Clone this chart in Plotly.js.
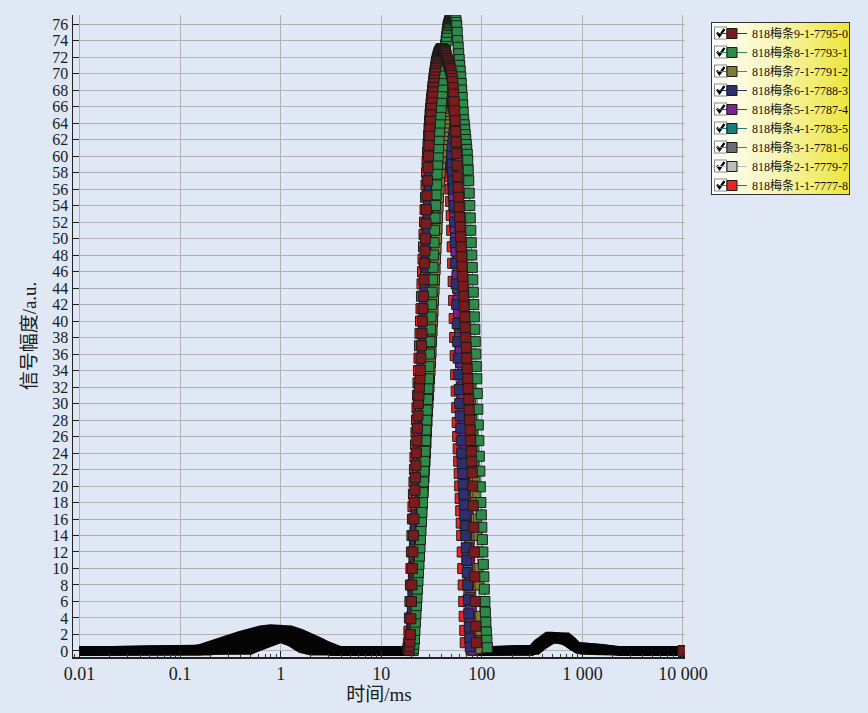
<!DOCTYPE html>
<html><head><meta charset="utf-8">
<script src="https://cdn.plot.ly/plotly-3.0.1.min.js"></script>
<style>html,body{margin:0;padding:0;background:#dfe8f4;}#chart{width:868px;height:713px;}</style>
</head><body><div id="chart"></div>
<script>
// ---- data ----
const t2Low = [0.01,0.1,0.126,0.158,0.2,0.251,0.316,0.398,0.501,0.631,0.794,1,1.26,1.58,2,2.51,3.16,3.98,5.01,10];
const t2Main = [18.20,18.41,18.62,18.84,19.06,19.28,19.50,19.72,19.95,20.18,
 20.42,20.65,20.89,21.14,21.38,21.63,21.88,22.13,22.39,22.65,
 22.91,23.17,23.44,23.71,23.99,24.27,24.55,24.83,25.12,25.41,
 25.70,26.00,26.30,26.61,26.92,27.23,27.54,27.86,28.18,28.51,
 28.84,29.17,29.51,29.85,30.20,30.55,30.90,31.26,31.62,31.99,
 32.36,32.73,33.11,33.50,33.88,34.28,34.67,35.08,35.48,35.89,
 36.31,36.73,37.15,37.58,38.02,38.46,38.90,39.36,39.81,40.27,
 40.74,41.21,41.69,42.17,42.66,43.15,43.65,44.16,44.67,45.19,
 45.71,46.24,46.77,47.32,47.86,48.42,48.98,49.55,50.12,50.70,
 51.29,51.88,52.48,53.09,53.70,54.33,54.95,55.59,56.23,56.89,
 57.54,58.21,58.88,59.57,60.26,60.95,61.66,62.37,63.10,63.83,
 64.57,65.31,66.07,66.83,67.61,68.39,69.18,69.98,70.79,71.61,
 72.44,73.28,74.13,74.99,75.86,76.74,77.62,78.52,79.43,80.35,
 81.28,82.22,83.18,84.14,85.11,86.10,87.10,88.10,89.13,90.16,
 91.20,92.26,93.33,94.41,95.50,96.61,97.72,98.86,100.0,101.2,
 102.3,103.5,104.7,105.9,107.2,108.4,109.6,110.9,112.2,113.5,
 114.8,116.1,117.5];
const t2High = [126,200,251,282,316,355,398,447,501,562,631,708,794,891,1000,1259,1585,1995,2512,10000];
const tickVals = [0.01,0.1,1,10,100,1000,10000];
const tickText = ['0.01','0.1','1','10','100','1 000','10 000'];

const names = ['818梅条9-1-7795-0','818梅条8-1-7793-1','818梅条7-1-7791-2','818梅条6-1-7788-3','818梅条5-1-7787-4','818梅条4-1-7783-5','818梅条3-1-7781-6','818梅条2-1-7779-7','818梅条1-1-7777-8'];
const colors = ['#7a1c1e','#2e8a48','#7c7c36','#2f2f70','#7a2690','#1d7e80','#6e6e6e','#bcbcbc','#ec2323'];

// short-time hump (t2Low)
const low0 = [0,0,0,0.2,0.6,1.0,1.35,1.7,2.1,2.35,2.5,2.5,2.35,1.95,1.45,0.9,0.25,0,0,0];
const low1 = [0,0,0.05,0.3,0.8,1.2,1.5,1.9,2.3,2.55,2.7,2.7,2.55,2.15,1.65,1.05,0.35,0,0,0];
const low2 = [0,0,0,0.1,0.5,0.85,1.2,1.55,1.9,2.15,2.3,2.3,2.15,1.75,1.3,0.75,0.15,0,0,0];
const low3 = [0,0,0,0,0.25,0.6,0.9,1.25,1.6,1.85,2.0,2.0,1.85,1.5,1.05,0.5,0,0,0,0];
const low4 = [0,0,0,0,0.15,0.45,0.8,1.1,1.45,1.7,1.85,1.9,1.75,1.4,0.95,0.4,0,0,0,0];
const low5 = [0,0,0,0,0,0.3,0.6,0.95,1.3,1.55,1.75,1.8,1.65,1.25,0.8,0.3,0,0,0,0];
const low6 = [0,0,0,0,0.35,0.7,1.05,1.4,1.75,1.95,2.1,2.1,1.95,1.6,1.15,0.6,0.1,0,0,0];
const low7 = [0,0,0,0,0,0.15,0.4,0.75,1.1,1.4,1.6,1.7,1.5,1.1,0.6,0.15,0,0,0,0];
const low8 = [0,0,0,0,0,0,0,0,0.1,0.6,1.1,1.5,1.05,0.3,0,0,0,0,0,0];

// main peak (t2Main)
const main0 = [0,0,0,0.1,0.5,1.1,2,3.9,6,8,10,12,14,16,18,19.5,21,22.5,24,25.5,
 27,28.5,30,31,32,33,34,35.5,37,38.5,40,41.5,43,45,47,48.5,50,51.8,53.5,55.2,
 57,58.6,60,61.3,62.5,63.6,64.5,65.4,66.2,67,67.7,68.4,69,69.5,70,70.4,70.8,71.2,71.5,71.8,
 72,72.2,72.4,72.6,72.7,72.8,72.9,73,73,73,73,73,72.9,72.8,72.7,72.6,72.4,72.2,72,71.8,
 71.6,71.4,71.2,71,70.8,70.6,70.4,70.1,69.8,69.4,69,68.3,67.5,66.6,65.5,64.3,63,61.7,60.3,58.9,
 57.5,56.2,55,53.8,52.6,51.4,50.2,49,47.8,46.6,45.4,44.2,43,41.8,40.5,39.2,38,36.8,35.5,34.2,
 33,31.8,30.5,29.2,28,26.8,25.5,24.2,23,21.6,20,17.6,15,12,9,6,3,1,0,0,
 0,0,0,0,0,0,0,0,0,0,0,0,0,0,0,0,0,0,0,0,
 0,0,0];
const main1 = [0,0,0,0,0,0,0,0,0,0,0,0.05,0.3,0.8,1.5,2.5,3.5,4.5,5.5,6.5,
 7.5,8.5,9.5,10.5,11.5,12.5,13.5,14.6,15.7,16.8,18,19.2,20.5,21.8,23,24.2,25.5,26.8,28,29.2,
 30.5,31.8,33,34.5,36,37.5,39,40.5,42,43.5,45,46.5,48,49.5,51,52.5,54,55.3,56.5,57.8,
 59,60,61,62,63,64,65,65.9,66.7,67.6,68.4,69.2,70,70.9,71.8,72.7,73.5,74,74.5,75,
 75.5,75.8,76,76.2,76.4,76.6,76.7,76.8,76.9,77,77,77,77,77,76.9,76.7,76.5,76.2,75.8,75,
 74,73.2,72.4,71.7,71,70.3,69.6,68.8,68,67.1,66.2,65.3,64.4,63.8,63.2,62.6,62,61.4,60.8,60.2,
 59.5,58.3,57,55.5,54,52.5,51,49.5,48,46.5,45,43.5,42,40.5,39,37.5,36,34.5,33,31.2,
 29.3,27.4,25.5,23.6,21.8,19.9,18,16.5,15,13.5,12,10.5,9,7.5,6,4.7,3.5,2.3,1.3,0.4,
 0,0,0];
const main2 = [0,0,0,0,0,0,0,0,0,0,0,0.1,0.5,1.4,2.5,3.7,5,6.2,7.5,8.5,
 9.5,10.5,11.5,12.5,13.5,14.5,15.5,16.3,17,17.7,18.5,19.2,20,21,22,23,24,25.2,26.5,27.8,
 29,30,31,32,33,34,35,36.2,37.5,38.8,40,41.2,42.5,43.8,45,46.2,47.5,48.8,50,51.2,
 52.5,53.8,55,56,57,58,59,59.8,60.5,61.3,62,62.5,63,63.5,64,64.5,65,65.4,65.8,66.1,
 66.4,66.6,66.8,66.9,67,67,67,66.9,66.8,66.6,66.4,66.1,65.8,65.4,65,64.5,64,63.5,63,62.5,
 62,61.5,61,60.4,59.8,59.2,58.5,57.8,57,55.5,54,52.5,51,49.5,48,46.5,45,43.5,42,40.5,
 39,37.5,36,34.5,33,31.8,30.5,29.2,28,26.8,25.5,24.2,23,21.8,20.5,19.2,18,16,14,12,
 10,8,6,4.2,2.5,1.2,0.3,0,0,0,0,0,0,0,0,0,0,0,0,0,
 0,0,0];
const main3 = [0,0,0,0,0,0.1,0.5,1.1,2,3.4,5,6.7,8.5,10.2,12,13.5,15,16.5,18,19.5,
 21,22.5,24,25.5,27,28.5,30,31.5,33,34.5,36,37.5,39,40.5,42,43.5,45,46.5,48,49.5,
 51,52.5,54,55.3,56.5,57.8,59,60,61,62,63,63.8,64.6,65.3,66,66.5,67,67.4,67.8,68.1,
 68.4,68.6,68.8,68.9,69,69,69,68.9,68.8,68.7,68.5,68.3,68,67.7,67.4,67.1,66.8,66.5,66.2,65.9,
 65.5,65.1,64.6,64.1,63.5,62.8,62,61,60,59,58,57,56,54,52,49.5,47,44.5,42,39.7,
 37.5,35.5,33.5,31.7,30,28.5,27,25.5,24,22.7,21.5,20.2,19,17.7,16.5,15.2,14,12.5,11,9.5,
 8,6.2,4.5,2.9,1.5,0.5,0,0,0,0,0,0,0,0,0,0,0,0,0,0,
 0,0,0,0,0,0,0,0,0,0,0,0,0,0,0,0,0,0,0,0,
 0,0,0];
const main4 = [0,0,0,0,0,0,0,0,0,0,0,0.1,0.5,1.4,2.5,3.7,5,6.5,8,9.5,
 11,12.5,14,15.5,17,18.5,20,21.5,23,24.5,26,27.5,29,30.5,32,33.5,35,36.5,38,39.5,
 41,42.5,44,45.5,47,48.5,50,51.3,52.5,53.8,55,56,57,58,59,59.8,60.5,61.3,62,62.5,
 63,63.5,64,64.4,64.8,65.1,65.4,65.6,65.8,65.9,66,66,66,65.9,65.8,65.6,65.4,65.1,64.8,64.4,
 64,63.5,63,62.4,61.8,61.1,60.4,59.6,58.8,57.9,57,56,55,53.8,52.5,51.3,50,48.5,47,45.5,
 44,42.5,41,39.5,38,36.5,35,33.5,32,30.5,29,27.5,26,24.5,23,21.5,20,18.5,17,15.5,
 14,12.5,11,9.5,8,6.5,5,3.7,2.5,1.4,0.5,0.1,0,0,0,0,0,0,0,0,
 0,0,0,0,0,0,0,0,0,0,0,0,0,0,0,0,0,0,0,0,
 0,0,0];
const main5 = [0,0,0,0,0,0,0,0.1,0.5,1.1,2,3.2,4.5,6,7.5,9,10.5,12,13.5,15,
 16.5,18,19.5,21,22.5,24,25.5,27,28.5,30,31.5,33,34.5,36,37.5,39,40.5,42,43.5,45,
 46.5,48,49.5,50.8,52,53.3,54.5,55.7,56.8,57.8,58.8,59.7,60.6,61.4,62.2,62.9,63.6,64.2,64.8,65.3,
 65.8,66.2,66.6,66.9,67.2,67.4,67.6,67.8,67.9,68,68,68,68,67.9,67.8,67.7,67.5,67.3,67,66.7,
 66.3,65.9,65.4,64.9,64.3,63.7,63,62.3,61.5,60.7,59.8,58.8,57.8,56.7,55.5,54.3,53,51.5,50,48.5,
 47,45.5,44,42.3,40.5,38.8,37,35.3,33.5,31.8,30,28.3,26.5,24.8,23,21.3,19.5,17.8,16,14,
 12,10,8,6,4,2.3,1,0.2,0,0,0,0,0,0,0,0,0,0,0,0,
 0,0,0,0,0,0,0,0,0,0,0,0,0,0,0,0,0,0,0,0,
 0,0,0];
const main6 = [0,0,0,0,0,0.05,0.3,0.8,1.5,2.7,4,5.7,7.5,9.3,11,12.5,14,15.5,17,18.5,
 20,21.5,23,24.5,26,27.5,29,30.5,32,33.5,35,36.5,38,39.5,41,42.5,44,45.5,47,48.5,
 50,51.5,53,54.3,55.5,56.8,58,59,60,61,62,62.9,63.8,64.5,65.2,65.8,66.4,66.9,67.4,67.8,
 68.2,68.5,68.8,69.1,69.3,69.5,69.7,69.8,69.9,70,70,70,69.9,69.8,69.6,69.4,69.2,68.9,68.6,68.3,
 67.9,67.5,67,66.5,66,65.4,64.8,64.1,63.3,62.5,61.6,60.6,59.6,58.5,57.3,56.1,54.8,53.4,52,50.5,
 49,47.5,46,44.5,43,41.5,40,38.5,37,35.5,34,32.5,31,29.5,28,26.5,25,23.5,22,20.5,
 19,17.3,15.5,13.5,11.5,9.3,7,5,3,1.5,0.5,0.1,0,0,0,0,0,0,0,0,
 0,0,0,0,0,0,0,0,0,0,0,0,0,0,0,0,0,0,0,0,
 0,0,0];
const main7 = [0,0,0,0,0,0.1,0.5,1.4,2.5,4.2,6,7.7,9.5,11.2,13,14.5,16,17.5,19,20.5,
 22,23.5,25,26.5,28,29.5,31,32.5,34,35.5,37,38.5,40,41.5,43,44.5,46,47.5,49,50.5,
 52,53.3,54.5,55.8,57,58,59,59.9,60.8,61.6,62.4,63.1,63.8,64.4,65,65.5,66,66.4,66.8,67.2,
 67.5,67.8,68,68.2,68.3,68.4,68.5,68.5,68.5,68.4,68.3,68.2,68,67.8,67.6,67.3,67,66.7,66.3,65.9,
 65.4,64.9,64.3,63.7,63,62.2,61.4,60.5,59.6,58.6,57.5,56.4,55.2,54,52.7,51.4,50,48.5,47,45.5,
 44,42.5,41,39.5,38,36.5,35,33.5,32,30.5,29,27.5,26,24.5,23,21.5,20,18.5,17,15.5,
 14,12.3,10.5,8.8,7,5.2,3.5,2.1,1,0.3,0,0,0,0,0,0,0,0,0,0,
 0,0,0,0,0,0,0,0,0,0,0,0,0,0,0,0,0,0,0,0,
 0,0,0];
const main8 = [0,0.3,1,2.4,4,6,8,10,12,14,16,17.5,19,20.5,22,23.5,25,26.5,28,29.5,
 31,32.5,34,35.5,37,38.5,40,41.5,43,44.5,46,47.5,49,50.5,52,53.5,55,56.5,58,59.3,
 60.5,61.5,62.5,63.4,64.3,65.1,65.8,66.4,67,67.5,68,68.5,69,69.4,69.8,70.1,70.4,70.6,70.8,70.9,
 71,71,71,70.9,70.8,70.6,70.4,70.1,69.8,69.4,69,68.5,68,67.4,66.8,66.1,65.4,64.6,63.8,62.9,
 62,61,60,58.8,57.5,56,54.5,52.8,51,49,47,44.8,42.5,40.3,38,35.8,33.5,31.5,29.5,27.7,
 26,24.5,23,21.5,20,18.5,17,15.5,14,12,10,8,6,4.2,2.5,1,0,0,0,0,
 0,0,0,0,0,0,0,0,0,0,0,0,0,0,0,0,0,0,0,0,
 0,0,0,0,0,0,0,0,0,0,0,0,0,0,0,0,0,0,0,0,
 0,0,0];

// long-time hump (t2High)
const high0 = [0,0,0,0,0.2,0.9,1.5,1.8,1.8,1.75,1.6,1.2,0.6,0.5,0.5,0.45,0.3,0.1,0,0];
const high1 = [0,0,0,0,0,0.4,1.0,1.5,1.75,1.8,1.8,1.7,1.2,0.55,0.5,0.45,0.35,0.15,0,0];
const high2 = [0,0,0,0,0,0.2,0.7,1.2,1.5,1.65,1.7,1.5,1.0,0.4,0.3,0.25,0.15,0,0,0];
const high3 = [0,0,0,0,0.1,0.6,1.2,1.5,1.6,1.6,1.4,1.0,0.5,0.2,0.1,0,0,0,0,0];
const high4 = [0,0,0,0,0,0.3,0.9,1.3,1.5,1.55,1.45,1.1,0.6,0.3,0.2,0.1,0,0,0,0];
const high5 = [0,0,0,0,0,0.1,0.6,1.1,1.4,1.5,1.5,1.3,0.8,0.35,0.3,0.2,0.1,0,0,0];
const high6 = [0,0,0,0,0.05,0.5,1.1,1.45,1.6,1.6,1.5,1.2,0.7,0.3,0.25,0.2,0.1,0,0,0];
const high7 = [0,0,0,0,0,0.2,0.8,1.2,1.4,1.45,1.4,1.15,0.7,0.35,0.3,0.25,0.15,0.05,0,0];
const high8 = [0,0,0,0,0,0.3,0.9,1.3,1.55,1.6,1.55,1.3,0.8,0.4,0.35,0.3,0.2,0.05,0,0];

// ---- drawing ----
const lows = [low0,low1,low2,low3,low4,low5,low6,low7,low8];
const mains = [main0,main1,main2,main3,main4,main5,main6,main7,main8];
const highs = [high0,high1,high2,high3,high4,high5,high6,high7,high8];

const W = 868, H = 713, PL = 73, PR = 685, PT = 15, PB = 657;
const bg = '#dfe8f4';
const FONT = "'Liberation Serif', 'Noto Sans CJK SC', serif";
const px = p => (p - PL) / (PR - PL);
const py = p => (PB - p) / (PB - PT);

const traces = [];
const xAll = t2Low.concat(t2Main, t2High);
for (let i = 8; i >= 0; i--) {
  traces.push({type:'scatter', mode:'lines', x:xAll,
    y: lows[i].concat(mains[i].map(v => v === 0 ? 0 : null), highs[i]),
    line:{color:'#050505', width:9}, connectgaps:false, showlegend:false, hoverinfo:'skip'});
}
for (let i = 8; i >= 0; i--) {
  const hi = highs[i];
  traces.push({type:'scatter', mode:'lines+markers', name:names[i],
    x: t2Main.concat([t2High[t2High.length-1]]),
    y: mains[i].map(v => v > 0 ? v : null).concat([hi[hi.length-1]]),
    connectgaps:false,
    line:{color:colors[i], width:1},
    marker:{symbol:'square', size:10, color:colors[i], line:{color:'#1c1c1c', width:1}}});
}

// legend background (white -> yellow gradient) and checkboxes
const boxL = 711, boxT = 22, boxW = 139, boxH = 173;
const rowTop = 33, rowH = 19;
let checks = '';
for (let k = 0; k < 9; k++) {
  const cy = rowTop - boxT + k*rowH;
  checks += `<rect x="3.5" y="${cy-6}" width="12" height="12" fill="#fff" stroke="#8a8a8a" stroke-width="1"/>` +
            `<path d="M6 ${cy-0.5} L8.5 ${cy+3} L13.5 ${cy-4}" fill="none" stroke="#000" stroke-width="2.2"/>`;
}
const svg = `<svg xmlns="http://www.w3.org/2000/svg" width="${boxW}" height="${boxH}" viewBox="0 0 ${boxW} ${boxH}">` +
  `<defs><linearGradient id="g" x1="0" y1="0" x2="1" y2="0"><stop offset="0" stop-color="#ffffff"/><stop offset="0.45" stop-color="#f8f6b8"/><stop offset="1" stop-color="#ece638"/></linearGradient></defs>` +
  `<rect x="0" y="0" width="${boxW}" height="${boxH}" fill="url(#g)" stroke="#333" stroke-width="2"/>` + checks + `</svg>`;

const layout = {
  width: W, height: H,
  paper_bgcolor: bg, plot_bgcolor: bg,
  margin: {l: PL, r: W - PR, t: PT, b: H - PB, pad: 0},
  font: {family: FONT, color: '#1a1a1a', size: 16},
  showlegend: true,
  legend: {xref:'container', yref:'container', x: 712/W, y: 1 - 19/H, xanchor:'left', yanchor:'top',
    bgcolor:'rgba(0,0,0,0)', borderwidth:0, traceorder:'reversed', tracegroupgap:0, itemwidth:30,
    font:{family:FONT, size:12, color:'#111'}},
  xaxis: {type:'log', range:[-2.065, 4.02], tickvals:tickVals, ticktext:tickText,
    showgrid:true, gridcolor:'#b2b2b2', gridwidth:1, zeroline:false,
    ticks:'inside', ticklen:6, tickcolor:'#222', showline:true, linecolor:'#222', linewidth:1.5,
    minor:{ticks:'inside', ticklen:3, tickcolor:'#333', dtick:'D1', showgrid:false},
    tickfont:{family:FONT, size:18, color:'#1a1a1a'},
    title:{text:'时间/ms', font:{family:FONT, size:19, color:'#1a1a1a'}, standoff:4}, automargin:false},
  yaxis: {range:[-0.73, 77.1], tick0:0, dtick:2, showgrid:true, gridcolor:'#b2b2b2', gridwidth:1, zeroline:false,
    ticks:'inside', ticklen:6, tickcolor:'#222', showline:true, linecolor:'#222', linewidth:1.5,
    tickfont:{family:FONT, size:16, color:'#1a1a1a'},
    title:{text:'信号幅度/a.u.', font:{family:FONT, size:19, color:'#1a1a1a'}, standoff:10}, automargin:false},
  images: [{source:'data:image/svg+xml;charset=utf-8,' + encodeURIComponent(svg),
    xref:'paper', yref:'paper', x: px(boxL), y: py(boxT), sizex: boxW/(PR-PL), sizey: boxH/(PB-PT),
    xanchor:'left', yanchor:'top', sizing:'stretch', layer:'above'}]
};

Plotly.newPlot('chart', traces, layout, {displayModeBar:false, staticPlot:true});
</script>
</body></html>
